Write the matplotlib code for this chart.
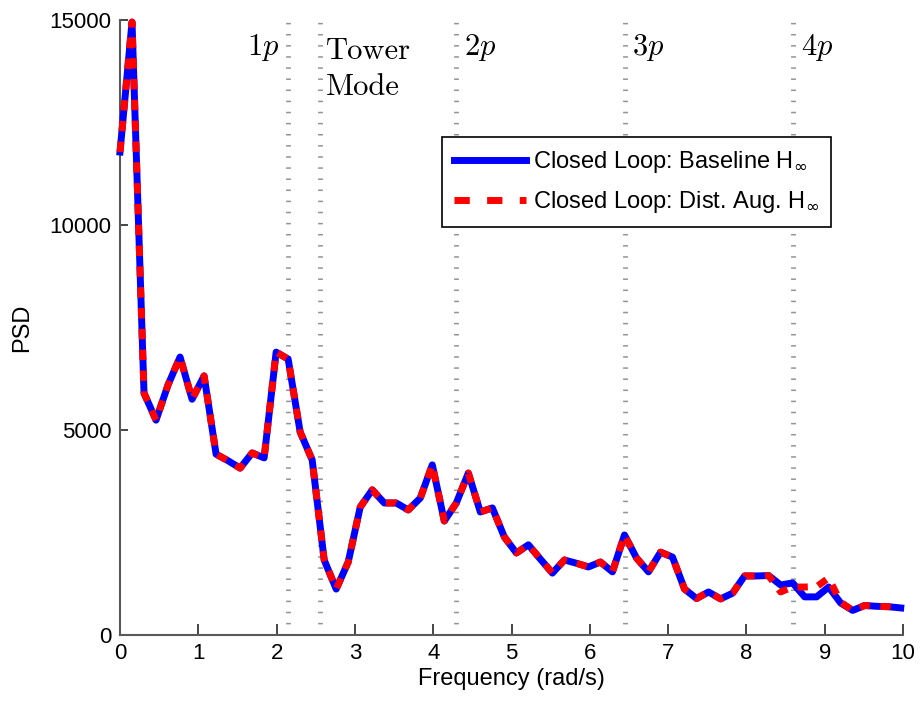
import numpy as np
import matplotlib
matplotlib.use("Agg")
import matplotlib.pyplot as plt
from matplotlib.lines import Line2D

plt.rcParams['font.family'] = ['Liberation Sans', 'DejaVu Sans']
plt.rcParams['lines.scale_dashes'] = False

# PSD on a uniform frequency grid (rad/s)
df = 0.1534
psd_baseline = [11780, 14950, 5900, 5240, 6100, 6780, 5750, 6320, 4410, 4250,
                4070, 4440, 4320, 6900, 6730, 4950, 4270, 1830, 1120, 1780,
                3120, 3540, 3220, 3220, 3050, 3340, 4150, 2780, 3220, 3950,
                3000, 3100, 2390, 2000, 2200, 1850, 1510, 1830, 1750, 1660,
                1780, 1540, 2440, 1880, 1540, 2020, 1900, 1120, 890, 1050,
                880, 1020, 1440, 1440, 1450, 1220, 1270, 930, 930, 1170,
                780, 600, 720, 700, 690, 660]
psd_dist_aug = [11780, 14950, 5900, 5240, 6100, 6780, 5750, 6320, 4410, 4250,
                4070, 4440, 4320, 6900, 6730, 4950, 4270, 1830, 1120, 1780,
                3120, 3540, 3220, 3220, 3050, 3340, 4150, 2780, 3220, 3950,
                3000, 3100, 2390, 2000, 2200, 1850, 1510, 1830, 1750, 1660,
                1780, 1540, 2440, 1880, 1540, 2020, 1900, 1120, 890, 1050,
                880, 1020, 1440, 1440, 1450, 1050, 1170, 1170, 1180, 1390,
                800, 600, 720, 700, 690, 660]
freq = np.arange(len(psd_baseline)) * df

series_labels = [r'Closed Loop: Baseline H$_{\infty}$',
                 r'Closed Loop: Dist. Aug. H$_{\infty}$']

# rotor harmonics and tower mode (rad/s)
harm_freq = [2.148, 4.296, 6.444, 8.592]
harm_labels = ['$1p$', '$2p$', '$3p$', '$4p$']
tower_freq = 2.555

fig = plt.figure(figsize=(9.22, 7.04), dpi=100)
ax = fig.add_axes([120 / 922, 69 / 704, 783 / 922, 615 / 704])

for xv in harm_freq + [tower_freq]:
    ax.axvline(xv, color='0.58', lw=3.5, dashes=(1.1, 6.9), zorder=1)

ax.plot(freq, psd_baseline, color='#0000ff', lw=5, solid_joinstyle='round',
        clip_on=False, zorder=3)
ax.plot(freq, psd_dist_aug, color='#ff0000', lw=5, dashes=(7.5, 7.5),
        dash_capstyle='butt', clip_on=False, zorder=4)

ax.set_xlim(0, 10)
ax.set_ylim(0, 15000)
ax.set_xticks(range(0, 11))
ax.set_yticks([0, 5000, 10000, 15000])
ax.tick_params(axis='both', direction='in', labelsize=16, color='0.15',
               width=1.2, pad=6)
ax.tick_params(axis='x', length=8)
ax.tick_params(axis='y', length=6)
for side in ['top', 'right']:
    ax.spines[side].set_visible(False)
for side in ['left', 'bottom']:
    ax.spines[side].set_color('0.35')
    ax.spines[side].set_linewidth(1.5)

ax.set_xlabel('Frequency (rad/s)', fontsize=17, labelpad=3)
ax.set_ylabel('PSD', fontsize=17, labelpad=12)

# harmonic annotations in serif
ax.text(2.03, 14150, harm_labels[0], fontsize=22, ha='right', va='baseline',
        math_fontfamily='cm')
for xv, lab in zip(harm_freq[1:], harm_labels[1:]):
    ax.text(xv + 0.1, 14150, lab, fontsize=22, ha='left', va='baseline',
            math_fontfamily='cm')
ax.text(2.63, 14050, 'Tower', fontsize=22, ha='left', va='baseline',
        family='cmr10')
ax.text(2.63, 13170, 'Mode', fontsize=22, ha='left', va='baseline',
        family='cmr10')

# legend keys with longer dashes than the plotted curve
handles = [Line2D([], [], color='#0000ff', lw=5),
           Line2D([], [], color='#ff0000', lw=5, dashes=(11, 12.5),
                  dash_capstyle='butt')]
leg = ax.legend(handles, series_labels, loc='upper right',
                bbox_to_anchor=(831 / 922, 1 - 137 / 704),
                bbox_transform=fig.transFigure, fontsize=17, handlelength=3.05,
                handletextpad=0.3, labelspacing=0.6, borderpad=0.5,
                borderaxespad=0, fancybox=False, framealpha=1)
leg.get_frame().set_edgecolor('black')
leg.get_frame().set_linewidth(1.2)

fig.savefig('out.png', dpi=100)
